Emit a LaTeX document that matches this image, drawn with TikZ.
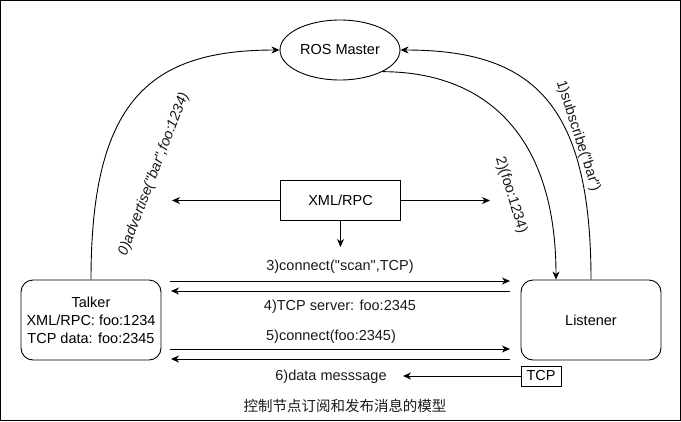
\documentclass[tikz,border=0pt]{standalone}
\usepackage{fontspec}
\setmainfont{Liberation Sans}[Ligatures=TeXOff]
\newfontfamily\cjkfont{Noto Sans CJK SC}
\usetikzlibrary{shapes.geometric,arrows.meta,calc}
\begin{document}
\begin{tikzpicture}[x=1pt,y=-1pt,
  font=\fontsize{14.5}{18}\selectfont,
  line width=0.9pt,
  >={Stealth[length=8pt,width=7pt,inset=2.5pt]},
  lbl/.style={inner sep=0pt, text=black!90},
  boxnode/.style={draw, rectangle, minimum width=120pt, minimum height=40pt, inner sep=0pt},
  rbox/.style={draw, rectangle, rounded corners=12pt, minimum width=140pt, minimum height=80pt, inner sep=0pt, align=center},
  ell/.style={draw, ellipse, minimum width=120pt, minimum height=60pt, inner sep=0pt}]
\useasboundingbox (0,0) rectangle (681,421);
\draw[line width=1.2pt] (0.6,0.6) rectangle (680.4,420.4);

\node[ell] (master) at (340,50) {ROS Master};
\node[boxnode] (xml) at (340.5,200.5) {XML/RPC};
\node[rbox] (talker) at (91,320) {Talker\\XML/RPC: foo:1234\\TCP data: foo:2345};
\node[rbox] (listener) at (591,320) {Listener};
\node[draw, rectangle, minimum width=40pt, minimum height=20pt, inner sep=0pt] (tcp) at (541,376) {TCP};

% XML/RPC arrows
\coordinate (xl) at (172,200.5);
\coordinate (xr) at (490,200.5);
\coordinate (xd) at (340.5,247);
\draw[->] (xml.west) -- (xl);
\draw[->] (xml.east) -- (xr);
\draw[->] (xml.south) -- (xd);

% curves
\coordinate (lt2) at ($(listener.north)+(-35,0)$);
\draw[->] (talker.north) .. controls (91,100) and (150,50) .. (master.west);
\draw[->] (listener.north) .. controls (591,100) and (530,50) .. (master.east);
\draw[->] (master.-27) .. controls (490,72) and (556,140) .. (lt2);

% horizontal connectors
\coordinate (a3s) at (170,281);  \coordinate (a3e) at (510,281);
\coordinate (a4s) at (510,291);  \coordinate (a4e) at (171,291);
\coordinate (a5s) at (170,349);  \coordinate (a5e) at (510,349);
\coordinate (a6s) at (510,359);  \coordinate (a6e) at (171,359);
\coordinate (a7e) at (403,376);
\draw[->] (a3s) -- (a3e);
\draw[->] (a4s) -- (a4e);
\draw[->] (a5s) -- (a5e);
\draw[->] (a6s) -- (a6e);
\draw[->] (tcp.west) -- (a7e);

% labels
\node[lbl, rotate=69, font=\fontsize{14.5}{18}\selectfont\itshape] (l0) at (154,174) {0)advertise("bar",foo:1234)};
\node[lbl, rotate=-73] (l2) at (511,195) {2)(foo:1234)};
\node[lbl, rotate=-72] (l1) at (578,136) {1)subscribe("bar")};
\node[lbl] (l3) at (340,267) {3)connect("scan",TCP)};
\node[lbl] (l4) at (340,307) {4)TCP server: foo:2345};
\node[lbl] (l5) at (331,337) {5)connect(foo:2345)};
\node[lbl] (l6) at (331,377) {6)data messsage};
\node[lbl, font=\cjkfont\fontsize{14.5}{18}\selectfont] (cap) at (345,406) {控制节点订阅和发布消息的模型};
\end{tikzpicture}
\end{document}
